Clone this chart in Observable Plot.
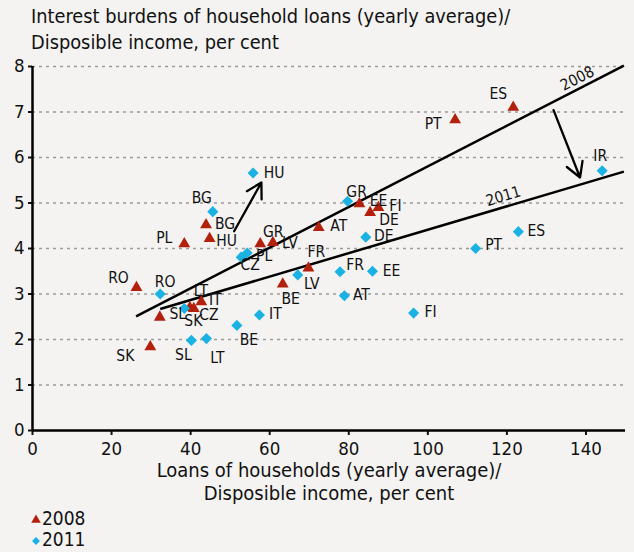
<!DOCTYPE html>
<html><head><meta charset="utf-8">
<script src="https://cdn.jsdelivr.net/npm/d3@7"></script>
<script src="https://cdn.jsdelivr.net/npm/@observablehq/plot@0.6"></script>
<style>
body{margin:0;background:#f4f3f1;font-family:"DejaVu Sans Condensed","DejaVu Sans",sans-serif;width:634px;height:552px;overflow:hidden;position:relative;color:#111}
#title{position:absolute;left:31px;top:4px;font-size:19.8px;line-height:26px}
#chart{position:absolute;left:0;top:56px}
#legend{position:absolute;left:30px;top:508px;font-size:19px;line-height:21px}
#legend div{display:flex;align-items:center}
</style></head><body>
<div id="title">Interest burdens of household loans (yearly average)/<br>Disposible income, per cent</div>
<div id="chart"></div>
<div id="legend"></div>
<script>
// ---- data ----
const countries2008 = ["SK","SL","RO","LT","CZ","IT","PL","BG","HU","GR","LV","BE","FR","AT","EE","DE","FI","PT","ES"];
const loans2008     = [29.8,32.2,26.3,39.8,40.8,42.7,38.4,43.9,44.8,57.6,60.8,63.3,69.8,72.4,82.7,85.4,87.5,106.9,121.6];
const burden2008    = [1.84,2.49,3.14,2.70,2.68,2.83,4.10,4.52,4.22,4.10,4.13,3.22,3.57,4.46,4.98,4.79,4.90,6.83,7.10];

const countries2011 = ["RO","SK","SL","LT","BE","IT","CZ","PL","BG","HU","LV","FR","EE","AT","FI","DE","GR","PT","ES","IR"];
const loans2011     = [32.3,38.4,40.2,44.0,51.7,57.4,52.8,54.3,45.6,55.8,67.1,77.8,86.0,78.9,96.4,84.3,79.7,112.1,122.9,144.1];
const burden2011    = [3.00,2.68,1.98,2.02,2.31,2.54,3.81,3.90,4.81,5.66,3.42,3.49,3.50,2.96,2.58,4.25,5.04,4.00,4.37,5.71];

const trendYears = ["2008","2011"];
const trendX1 = [26.2, 32.3];
const trendY1 = [2.51, 2.67];
const trendX2 = [149.6, 149.6];
const trendY2 = [8.02, 5.69];
const trendLabelX = [137.8, 119.1];

const arrowX1 = [51.0, 131.8];
const arrowY1 = [4.38, 7.04];
const arrowX2 = [57.9, 138.5];
const arrowY2 = [5.45, 5.56];

const xTicks = [0,20,40,60,80,100,120,140];
const yTicks = [0,1,2,3,4,5,6,7,8];
const xTitle = "Loans of households (yearly average)/\nDisposible income, per cent";

// ---- label placement (layout, pixels) ----
const off = {
 "2008SK":[-25,9],"2008SL":[18,-3],"2008RO":[-18,-10],"2008LT":[11,-17],"2008CZ":[15,6],"2008IT":[14,-2],
 "2008PL":[-20,-6],"2008BG":[19,-1],"2008HU":[17,3],"2008GR":[13,-12],"2008LV":[17,0],"2008BE":[8,15],
 "2008FR":[8,-16],"2008AT":[20,-2],"2008EE":[19,-3],"2008DE":[19,7],"2008FI":[17,-2],"2008PT":[-22,4],"2008ES":[-15,-13],
 "2011RO":[5,-12],"2011SK":[9,12],"2011SL":[-8,15],"2011LT":[11,19],"2011BE":[12,15],"2011IT":[16,-1],
 "2011CZ":[9,8],"2011PL":[17,3],"2011BG":[-11,-14],"2011HU":[21,0],"2011LV":[14,9],"2011FR":[15,-7],
 "2011EE":[19,0],"2011AT":[17,-1],"2011FI":[17,-1],"2011DE":[18,-1],"2011GR":[9,-9],"2011PT":[18,-3],
 "2011ES":[18,-1],"2011IR":[-2,-15]
};

const RED = "#b3200c", CYAN = "#19b2e3";
const FONT = "'DejaVu Sans Condensed','DejaVu Sans',sans-serif";

const d08 = countries2008.map((c,i)=>({c, x:loans2008[i], y:burden2008[i], k:"2008"+c}));
const d11 = countries2011.map((c,i)=>({c, x:loans2011[i], y:burden2011[i], k:"2011"+c}));
const labels = [...d08, ...d11];
const trends = trendYears.map((t,i)=>({t, x1:trendX1[i], y1:trendY1[i], x2:trendX2[i], y2:trendY2[i]}));
const trendLabels = trends.map((d,i)=>({t:d.t, x:trendLabelX[i], y:d.y1 + (d.y2-d.y1)/(d.x2-d.x1)*(trendLabelX[i]-d.x1)}));
const arrows = arrowX1.map((v,i)=>({x1:v, y1:arrowY1[i], x2:arrowX2[i], y2:arrowY2[i]}));

const labelMarks = labels.map(d => Plot.text([d], {x:"x", y:"y", text:"c", dx:off[d.k][0], dy:off[d.k][1], fontSize:15.5, fill:"#111"}));

const chart = Plot.plot({
  width:634, height:449,
  marginLeft:32, marginRight:9, marginTop:10, marginBottom:75,
  style:{background:"transparent", fontFamily:FONT, color:"#111", overflow:"visible"},
  x:{domain:[0,150]},
  y:{domain:[0,8]},
  marks:[
    Plot.gridY(yTicks.slice(1), {stroke:"#9a9a9a", strokeOpacity:1, strokeWidth:1.3, strokeDasharray:"3,4"}),
    Plot.axisX(xTicks, {tickSize:5, tickPadding:6, fontSize:18.5, label:null, strokeWidth:2, tickFormat:d=>String(d)}),
    Plot.axisY(yTicks, {tickSize:4, tickPadding:4, fontSize:18.5, label:null, strokeWidth:2, tickFormat:d=>String(d)}),
    Plot.ruleX([0], {y1:0, y2:8, stroke:"#000", strokeWidth:2.5}),
    Plot.ruleY([0], {x1:0, x2:150, stroke:"#000", strokeWidth:2.5}),
    Plot.link(trends, {x1:"x1", y1:"y1", x2:"x2", y2:"y2", stroke:"#000", strokeWidth:2.5}),
    Plot.text(trendLabels.filter(d=>d.t==="2008"), {x:"x", y:"y", text:"t", rotate:-27, dy:-11, fontSize:15.5}),
    Plot.text(trendLabels.filter(d=>d.t==="2011"), {x:"x", y:"y", text:"t", rotate:-16.5, dy:-11, fontSize:15.5}),
    Plot.arrow(arrows, {x1:"x1", y1:"y1", x2:"x2", y2:"y2", stroke:"#000", strokeWidth:2.3, headLength:11}),
    Plot.dot(d08, {x:"x", y:"y", symbol:"triangle", r:4.4, fill:RED, stroke:null}),
    Plot.dot(d11, {x:"x", y:"y", symbol:"diamond2", r:5, fill:CYAN, stroke:null}),
    ...labelMarks,
    Plot.text([xTitle], {frameAnchor:"bottom", text:d=>d, dy:51, lineHeight:1.15, fontSize:20, lineAnchor:"middle"})
  ]
});
document.getElementById("chart").append(chart);

// legend
const legendItems = [["2008", d3.symbolTriangle, RED, 40], ["2011", d3.symbolDiamond2, CYAN, 40]];
const leg = d3.select("#legend");
legendItems.forEach(([t, sym, col, sz]) => {
  const row = leg.append("div");
  const s = row.append("svg").attr("width", 12).attr("height", 12);
  s.append("path").attr("transform","translate(6,7)").attr("d", d3.symbol(sym, sz)()).attr("fill", col);
  row.append("span").text(t);
});
</script>
</body></html>
